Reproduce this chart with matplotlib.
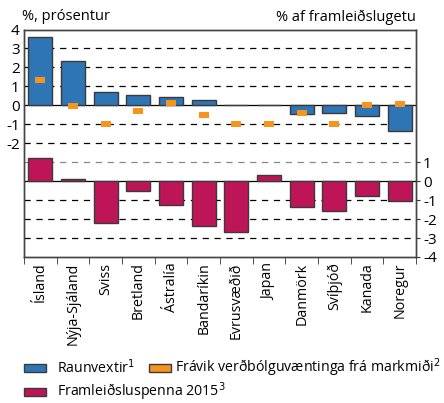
import matplotlib
matplotlib.use('Agg')
import matplotlib.pyplot as plt
import numpy as np
from matplotlib.patches import Rectangle

plt.rcParams['font.family'] = ['Open Sans', 'DejaVu Sans']

# data
countries = ['Ísland', 'Nýja-Sjáland', 'Sviss', 'Bretland', 'Ástralía', 'Bandaríkin',
             'Evrusvæðið', 'Japan', 'Danmörk', 'Svíþjóð', 'Kanada', 'Noregur']
raunvextir = [3.6, 2.32, 0.70, 0.56, 0.46, 0.28, 0.0, 0.0, -0.44, -0.42, -0.56, -1.35]
fravik = [1.32, -0.05, -1.0, -0.3, 0.12, -0.53, -1.0, -1.0, -0.4, -1.0, 0.03, 0.07]
framleidsluspenna = [1.24, 0.12, -2.2, -0.53, -1.28, -2.37, -2.67, 0.32, -1.35, -1.58, -0.79, -1.05]
left_ticks = [4, 3, 2, 1, 0, -1, -2]
right_ticks = [1, 0, -1, -2, -3, -4]

# bottom panel is drawn in the same axes, shifted down by 4 units
offset = -4

blue = '#2e75b6'
orange = '#f7941d'
magenta = '#be1558'
edge = '#3a3a3a'

fig = plt.figure(figsize=(4.44, 4.03), dpi=100)
ax = fig.add_axes([24/444, 1-257/403, 392/444, 227.5/403])
x = np.arange(len(countries))

# grid lines
for g in [3, 2, 1, -1, -2, -5, -6, -7]:
    ax.axhline(g, color='black', lw=0.9, dashes=(5, 4.5), zorder=1)
ax.axhline(-3, color='#888888', lw=0.9, dashes=(5, 4.5), zorder=1)
ax.axhline(0, color='black', lw=0.9, zorder=1)
ax.axhline(offset, color='black', lw=0.9, zorder=1)

ax.bar(x, raunvextir, width=0.74, color=blue, edgecolor=edge, linewidth=1, zorder=2)
ax.bar(x, framleidsluspenna, width=0.74, bottom=offset, color=magenta,
       edgecolor=edge, linewidth=1, zorder=2)
ax.plot(x, fravik, linestyle='none', marker='_', markersize=7.5, mew=4.3,
        color=orange, zorder=3)

ax.set_xlim(-0.5, len(countries) - 0.5)
ax.set_ylim(-8, 4)
ax.set_yticks(left_ticks)
ax.set_yticklabels([str(t) for t in left_ticks], fontsize=11)
ax.tick_params(axis='y', length=0, pad=3)

ax.set_xticks(x)
ax.set_xticklabels(countries, rotation=90, fontsize=10.3)
ax.set_xticks(np.arange(len(countries) + 1) - 0.5, minor=True)
ax.tick_params(axis='x', which='major', length=0, pad=4)
ax.tick_params(axis='x', which='minor', length=5, color='#333333')

ax2 = ax.twinx()
ax2.set_ylim(-8, 4)
ax2.set_yticks([t + offset for t in right_ticks])
ax2.set_yticklabels([str(t) for t in right_ticks], fontsize=11)
ax2.tick_params(axis='y', length=3, pad=2, color='#333333')

for a in (ax, ax2):
    for s in a.spines.values():
        s.set_color('#444444')
        s.set_linewidth(1)

fig.text(22/444, 1-16/403, '%, prósentur', fontsize=10.5, va='center', ha='left')
fig.text(416/444, 1-17/403, '% af framleiðslugetu', fontsize=10.5, va='center', ha='right')

# legend
items = [(24, 57, 368, blue, 'Raunvextir$^{1}$'),
         (149, 175, 368, orange, 'Frávik verðbólguvæntinga frá markmiði$^{2}$'),
         (24, 57, 392, magenta, 'Framleiðsluspenna 2015$^{3}$')]
for px, tx, py, col, lab in items:
    fig.patches.append(Rectangle((px/444, 1-(py+4)/403), 22/444, 8/403,
                                 facecolor=col, edgecolor=edge, lw=1,
                                 transform=fig.transFigure))
    fig.text(tx/444, 1-py/403, lab, fontsize=10.2, va='center', ha='left')

fig.savefig('out.png', dpi=100)
